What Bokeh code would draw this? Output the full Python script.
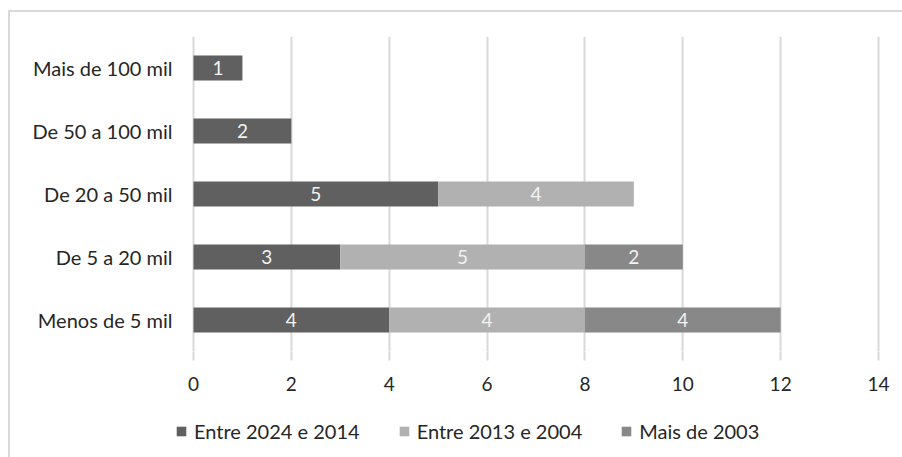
from bokeh.plotting import figure
from bokeh.layouts import column
from bokeh.models import (ColumnDataSource, FactorRange, Range1d, FixedTicker,
                          Legend, LegendItem)
from bokeh.core.properties import value
from bokeh.embed import file_html
from bokeh.resources import INLINE

# Population size classes (bottom to top) and count per founding period
categories = ["Menos de 5 mil", "De 5 a 20 mil", "De 20 a 50 mil",
              "De 50 a 100 mil", "Mais de 100 mil"]
series_names = ["Entre 2024 e 2014", "Entre 2013 e 2004", "Mais de 2003"]
entre_2024_2014 = [4, 3, 5, 2, 1]
entre_2013_2004 = [4, 5, 4, 0, 0]
mais_de_2003 = [4, 2, 0, 0, 0]
x_ticks = [0, 2, 4, 6, 8, 10, 12, 14]

colors = ["#606060", "#b1b1b1", "#888888"]
FONT = "Lato"
TEXT_COLOR = "#262626"
GRID = "#d9d9d9"

series = [entre_2024_2014, entre_2013_2004, mais_de_2003]
keys = ["s0", "s1", "s2"]
source = ColumnDataSource(dict(cat=categories, s0=series[0], s1=series[1], s2=series[2]))

# extra room left of 0 (where the legend swatch sits) and right of 14 (gridline)
x_start, x_end = -0.388, 14.041

p = figure(width=892, height=400, output_backend="svg", toolbar_location=None,
           y_range=FactorRange(factors=categories, range_padding=0),
           x_range=Range1d(x_start, x_end),
           min_border_left=164, min_border_right=22,
           min_border_top=24, min_border_bottom=61)
p.outline_line_color = None
p.background_fill_color = "white"
p.border_fill_color = "white"

renderers = p.hbar_stack(keys, y="cat", height=0.4, color=colors, line_color=None,
                         source=source)

# value labels centred in every non-empty segment
lx, ly, lt = [], [], []
left = [0] * len(categories)
for vals in series:
    for i, v in enumerate(vals):
        if v > 0:
            lx.append(left[i] + v / 2)
            ly.append(categories[i])
            lt.append(str(v))
        left[i] += v
p.text(x=lx, y=ly, text=lt, text_align="center", text_baseline="middle",
       text_color="#f2f2f2", text_font=value(FONT), text_font_size="19px")

# axes
p.xaxis.ticker = FixedTicker(ticks=x_ticks)
p.xaxis.axis_line_color = None
p.xaxis.major_tick_line_color = GRID
p.xaxis.major_tick_line_width = 2
p.xaxis.major_tick_out = 9
p.xaxis.major_tick_in = 0
p.xaxis.minor_tick_line_color = None
p.xaxis.major_label_standoff = 16
p.xaxis.major_label_text_font = FONT
p.xaxis.major_label_text_font_size = "19px"
p.xaxis.major_label_text_color = TEXT_COLOR

p.yaxis.axis_line_color = None
p.yaxis.major_tick_line_color = None
p.yaxis.minor_tick_line_color = None
p.yaxis.major_tick_in = 0
p.yaxis.major_tick_out = 0
p.yaxis.major_label_standoff = 2
p.yaxis.major_label_text_font = FONT
p.yaxis.major_label_text_font_size = "20px"
p.yaxis.major_label_text_color = TEXT_COLOR

p.xgrid.grid_line_color = GRID
p.xgrid.grid_line_width = 2
p.ygrid.grid_line_color = None

# legend strip under the chart; zero-length bars only carry the swatch colours
q = figure(width=892, height=45, output_backend="svg", toolbar_location=None,
           x_range=Range1d(0, 1), y_range=Range1d(0, 1),
           x_axis_location=None, y_axis_location=None, min_border=0)
q.outline_line_color = None
q.grid.visible = False
q.border_fill_color = "white"
swatches = [q.hbar(y=[0.5], left=[0], right=[0], height=0, color=c, line_color=None)
            for c in colors]

legend = Legend(items=[LegendItem(label=n, renderers=[r]) for n, r in zip(series_names, swatches)],
                orientation="horizontal", location=(1, 14),
                glyph_width=12, glyph_height=12, label_standoff=7, spacing=38,
                padding=0, margin=0, border_line_color=None, background_fill_alpha=0,
                label_text_font=FONT, label_text_font_size="20px",
                label_text_color=TEXT_COLOR)
q.add_layout(legend)

# chart area border (only the top and left edges fall inside the window)
layout = column(p, q, spacing=0,
                styles={"margin-left": "8px", "margin-top": "10px",
                        "border-left": "2px solid #d9d9d9",
                        "border-top": "2px solid #d9d9d9"})

open("out.html", "w").write(file_html(layout, INLINE))
